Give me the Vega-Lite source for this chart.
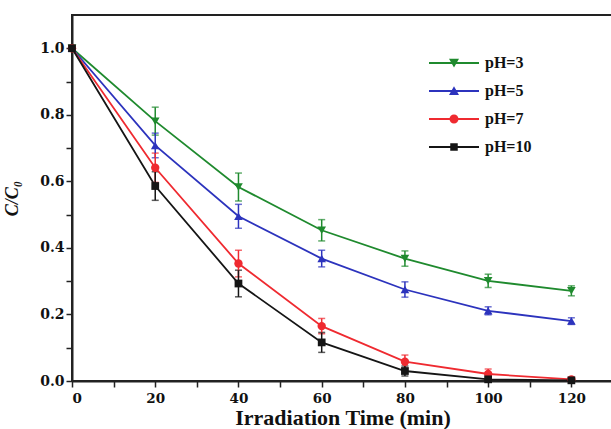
{
  "$schema": "https://vega.github.io/schema/vega-lite/v6.json",
  "width": 541,
  "height": 366,
  "autosize": {"type": "none"},
  "padding": {"left": 72, "top": 15, "right": 0, "bottom": 48},
  "background": "white",
  "data": {
    "values": [
      {"pH": "pH=3", "t": 0, "c": 1.0, "lo": null, "hi": null},
      {"pH": "pH=3", "t": 20, "c": 0.781, "lo": 0.739, "hi": 0.823},
      {"pH": "pH=3", "t": 40, "c": 0.583, "lo": 0.541, "hi": 0.625},
      {"pH": "pH=3", "t": 60, "c": 0.453, "lo": 0.421, "hi": 0.485},
      {"pH": "pH=3", "t": 80, "c": 0.368, "lo": 0.345, "hi": 0.391},
      {"pH": "pH=3", "t": 100, "c": 0.301, "lo": 0.281, "hi": 0.321},
      {"pH": "pH=3", "t": 120, "c": 0.271, "lo": 0.256, "hi": 0.286},
      {"pH": "pH=5", "t": 0, "c": 1.0, "lo": null, "hi": null},
      {"pH": "pH=5", "t": 20, "c": 0.708, "lo": 0.671, "hi": 0.745},
      {"pH": "pH=5", "t": 40, "c": 0.495, "lo": 0.459, "hi": 0.531},
      {"pH": "pH=5", "t": 60, "c": 0.368, "lo": 0.343, "hi": 0.393},
      {"pH": "pH=5", "t": 80, "c": 0.275, "lo": 0.252, "hi": 0.298},
      {"pH": "pH=5", "t": 100, "c": 0.211, "lo": 0.199, "hi": 0.223},
      {"pH": "pH=5", "t": 120, "c": 0.18, "lo": 0.17, "hi": 0.19},
      {"pH": "pH=7", "t": 0, "c": 1.0, "lo": null, "hi": null},
      {"pH": "pH=7", "t": 20, "c": 0.641, "lo": 0.597, "hi": 0.685},
      {"pH": "pH=7", "t": 40, "c": 0.353, "lo": 0.313, "hi": 0.393},
      {"pH": "pH=7", "t": 60, "c": 0.165, "lo": 0.142, "hi": 0.188},
      {"pH": "pH=7", "t": 80, "c": 0.058, "lo": 0.038, "hi": 0.078},
      {"pH": "pH=7", "t": 100, "c": 0.021, "lo": 0.006, "hi": 0.036},
      {"pH": "pH=7", "t": 120, "c": 0.005, "lo": 0.0, "hi": 0.011},
      {"pH": "pH=10", "t": 0, "c": 1.0, "lo": null, "hi": null},
      {"pH": "pH=10", "t": 20, "c": 0.586, "lo": 0.543, "hi": 0.629},
      {"pH": "pH=10", "t": 40, "c": 0.293, "lo": 0.253, "hi": 0.333},
      {"pH": "pH=10", "t": 60, "c": 0.116, "lo": 0.086, "hi": 0.146},
      {"pH": "pH=10", "t": 80, "c": 0.03, "lo": 0.015, "hi": 0.045},
      {"pH": "pH=10", "t": 100, "c": 0.005, "lo": 0.0, "hi": 0.011},
      {"pH": "pH=10", "t": 120, "c": 0.002, "lo": 0.0, "hi": 0.005}
    ]
  },
  "encoding": {
    "x": {
      "field": "t",
      "type": "quantitative",
      "scale": {"domain": [0, 130], "nice": false, "zero": false},
      "axis": {
        "title": "Irradiation Time (min)",
        "values": [0, 10, 20, 30, 40, 50, 60, 70, 80, 90, 100, 110, 120],
        "labelExpr": "datum.value % 20 === 0 ? datum.label : ''",
        "grid": false,
        "tickSize": 6,
        "labelPadding": 4,
        "titlePadding": 3,
        "encode": {"ticks": {"update": {"y2": {"signal": "datum.value % 20 === 0 ? 6 : 3"}}}}
      }
    },
    "y": {
      "field": "c",
      "type": "quantitative",
      "title": "C/C₀",
      "scale": {"domain": [0, 1.1], "nice": false},
      "axis": {
        "title": "C/C₀",
        "titleFontStyle": "italic",
        "values": [0, 0.1, 0.2, 0.3, 0.4, 0.5, 0.6, 0.7, 0.8, 0.9, 1.0],
        "labelExpr": "round(datum.value * 10) % 2 === 0 ? format(datum.value, '.1f') : ''",
        "grid": false,
        "tickSize": 6,
        "labelPadding": 2,
        "labelFontSize": 14,
        "titlePadding": 18,
        "encode": {"ticks": {"update": {"x2": {"signal": "round(datum.value * 10) % 2 === 0 ? -6 : -3"}}}}
      }
    },
    "color": {
      "field": "pH",
      "type": "nominal",
      "scale": {
        "domain": ["pH=3", "pH=5", "pH=7", "pH=10"],
        "range": ["#1f8a2e", "#2c33bd", "#ef2a30", "#151515"]
      },
      "legend": {
        "title": null,
        "orient": "none",
        "legendX": 357,
        "legendY": 40,
        "padding": 0,
        "symbolSize": 2500,
        "symbolStrokeWidth": 0,
        "symbolOpacity": 1,
        "clipHeight": 16,
        "rowPadding": 12,
        "labelOffset": 6,
        "labelFont": "Liberation Serif",
        "labelFontWeight": "bold",
        "labelFontSize": 16,
        "labelColor": "#111"
      }
    }
  },
  "layer": [
    {
      "mark": {"type": "errorbar", "ticks": {"size": 7}, "thickness": 1.5},
      "encoding": {
        "y": {"field": "lo", "type": "quantitative", "title": "C/C₀"},
        "y2": {"field": "hi"}
      }
    },
    {
      "mark": {"type": "line", "strokeWidth": 1.8}
    },
    {
      "transform": [{"filter": "datum.pH === 'pH=3'"}],
      "mark": {"type": "point", "shape": "triangle-down", "filled": true, "opacity": 1, "size": 75}
    },
    {
      "transform": [{"filter": "datum.pH === 'pH=5'"}],
      "mark": {"type": "point", "shape": "triangle-up", "filled": true, "opacity": 1, "size": 75}
    },
    {
      "transform": [{"filter": "datum.pH === 'pH=7'"}],
      "mark": {"type": "point", "shape": "circle", "filled": true, "opacity": 1, "size": 70}
    },
    {
      "transform": [{"filter": "datum.pH === 'pH=10'"}],
      "mark": {"type": "point", "shape": "square", "filled": true, "opacity": 1, "size": 60}
    },
    {
      "transform": [{"filter": "false"}],
      "mark": {"type": "point", "filled": true, "opacity": 1},
      "encoding": {
        "shape": {
          "field": "pH",
          "type": "nominal",
          "scale": {
            "domain": ["pH=3", "pH=5", "pH=7", "pH=10"],
            "range": [
              "M-1,-0.04L1,-0.04L1,0.04L-1,0.04Z M-0.2,-0.17L0.2,-0.17L0,0.18Z",
              "M-1,-0.04L1,-0.04L1,0.04L-1,0.04Z M0.2,0.16L-0.2,0.16L0,-0.19Z",
              "M-1,-0.04L1,-0.04L1,0.04L-1,0.04Z M0.18,0A0.18,0.18 0 1,1 -0.18,0A0.18,0.18 0 1,1 0.18,0Z",
              "M-1,-0.04L1,-0.04L1,0.04L-1,0.04Z M-0.15,-0.15L0.15,-0.15L0.15,0.15L-0.15,0.15Z"
            ]
          }
        }
      }
    }
  ],
  "config": {
    "view": {"stroke": "#222", "strokeWidth": 2},
    "axis": {
      "domainColor": "#222",
      "domainWidth": 2,
      "tickColor": "#222",
      "tickWidth": 1.5,
      "labelFont": "DejaVu Serif",
      "labelFontWeight": "bold",
      "labelFontSize": 13.5,
      "labelColor": "#111",
      "titleFont": "Liberation Serif",
      "titleFontWeight": "bold",
      "titleColor": "#111"
    },
    "axisX": {"titleFontSize": 22},
    "axisY": {"titleFontSize": 18}
  }
}
